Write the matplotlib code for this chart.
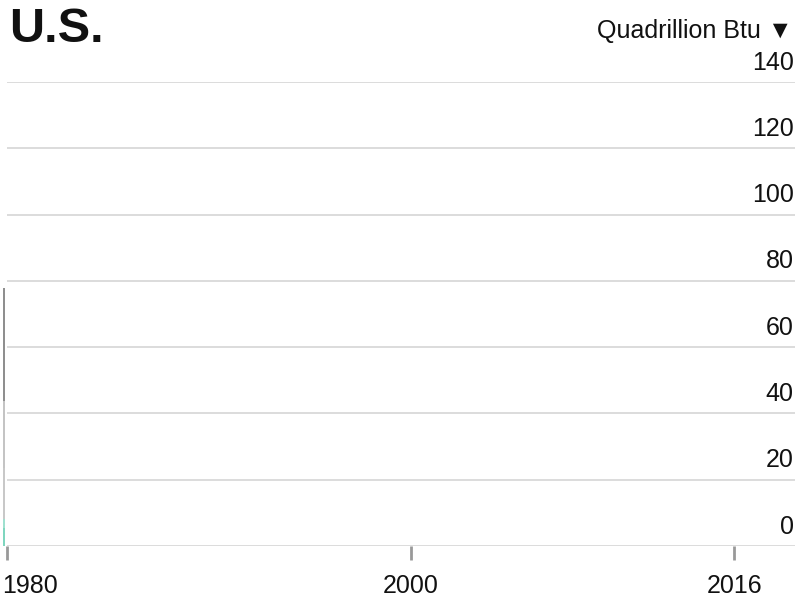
import matplotlib
matplotlib.use("Agg")
import matplotlib.pyplot as plt
import matplotlib.transforms as mtransforms

plt.rcParams['font.family'] = ['Liberation Sans', 'DejaVu Sans']

# Data (first frame: 1980 only)
year = 1980
sources = ["Petroleum", "Natural gas", "Coal", "Nuclear", "Renewables"]
values_1980 = [34.2, 20.2, 15.4, 2.7, 5.4]
colors = ["#8f8f8f", "#c4c4c4", "#c8c8c8", "#9fe0cf", "#7fd6bf"]

xticks = [1980, 2000, 2016]
yticks = [0, 20, 40, 60, 80, 100, 120, 140]

fig = plt.figure(figsize=(8, 6), dpi=100)
px_per_year = 20.2
ax = fig.add_axes([0, 1 - 546 / 600, 795 / 800, (546 - 82) / 600])
ax.set_xlim(1980 - 7 / px_per_year, 1980 - 7 / px_per_year + 795 / px_per_year)
ax.set_ylim(0, 140)

# Gridlines
ax.hlines(yticks, 1980, ax.get_xlim()[1], colors="#d6d6d6", lw=1.2, zorder=1)

# Stacked values at 1980 (thin sliver: start of animation)
bottom = 0
for v, c in zip(values_1980[::-1], colors[::-1]):
    ax.bar(year - 0.19, v, width=0.1, bottom=bottom, color=c, align="edge",
           linewidth=0, zorder=2)
    bottom += v

for s in ax.spines.values():
    s.set_visible(False)

ax.set_yticks([])
ax.set_xticks(xticks)
ax.set_xticklabels([])
ax.tick_params(axis="x", length=10, width=2, color="#999999")

for t in xticks:
    ha = "left" if t == xticks[0] else "center"
    dx = -3.6 if t == xticks[0] else 0
    ax.annotate(str(t), xy=(t, 0), xycoords="data", xytext=(dx, -34),
                textcoords="offset points", ha=ha, va="baseline",
                fontsize=18, color="#111111", annotation_clip=False)

trans = mtransforms.blended_transform_factory(ax.transAxes, ax.transData)
for t in yticks:
    ax.annotate(str(t), xy=(1.0, t), xycoords=trans, xytext=(-1, 9),
                textcoords="offset points", ha="right", va="baseline",
                fontsize=18, color="#111111")

fig.text(9 / 800, 1 - 42 / 600, "U.S.", fontsize=35, fontweight="bold",
         color="#111111", ha="left", va="baseline")
fig.text(793 / 800, 1 - 38 / 600, "Quadrillion Btu ▼", fontsize=18,
         color="#111111", ha="right", va="baseline")

fig.savefig("out.png", dpi=100)
